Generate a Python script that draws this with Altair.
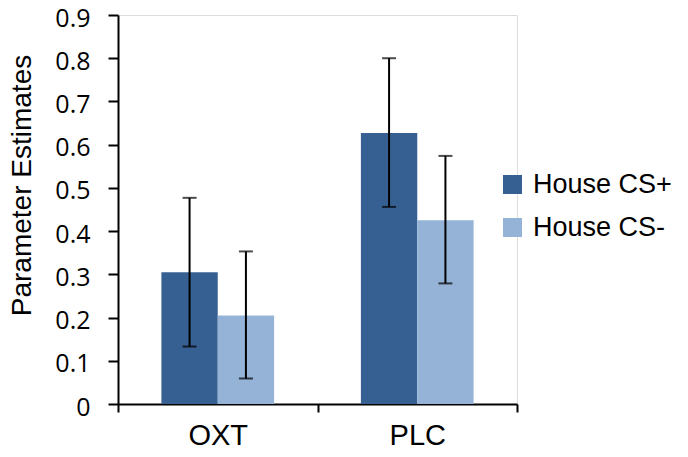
import altair as alt
import pandas as pd

genes = ["OXT", "OXT", "PLC", "PLC"]
conditions = ["House CS+", "House CS-", "House CS+", "House CS-"]
means = [0.305, 0.205, 0.627, 0.425]
lower = [0.133, 0.059, 0.456, 0.279]
upper = [0.477, 0.353, 0.800, 0.574]

cond_order = ["House CS+", "House CS-"]
colors = ["#376092", "#95B3D7"]
y_ticks = [0, 0.1, 0.2, 0.3, 0.4, 0.5, 0.6, 0.7, 0.8, 0.9]

df = pd.DataFrame({"gene": genes, "cond": conditions, "mean": means,
                   "lo": lower, "hi": upper})

x_enc = alt.X("gene:N", title=None,
              scale=alt.Scale(paddingInner=0, paddingOuter=0),
              axis=alt.Axis(tickBand="extent", labelAngle=0, labelFont="Liberation Sans",
                            labelFontSize=29, labelColor="black", labelPadding=9,
                            domainColor="black", domainWidth=2, tickColor="black",
                            tickWidth=2, tickSize=8, grid=False))
xoff = alt.XOffset("cond:N", sort=cond_order,
                   scale=alt.Scale(domain=cond_order, paddingInner=0, paddingOuter=0.77))

y_scale = alt.Scale(domain=[0, 0.9], nice=False)
y_axis = alt.Axis(values=y_ticks, grid=False,
                  labelExpr="datum.value == 0 ? '0' : format(datum.value, '.1f')",
                  labelFont="Open Sans", labelFontSize=25, labelColor="black",
                  labelPadding=18, labelOffset=3, domainColor="black", domainWidth=2,
                  tickColor="black", tickWidth=2, tickSize=10,
                  title="Parameter Estimates", titleFont="Liberation Sans",
                  titleFontSize=28, titleFontWeight="normal", titleColor="black",
                  titleAngle=270, titleAlign="center", titleBaseline="alphabetic",
                  titleX=-88, titleY=170)

base = alt.Chart(df)

bars = base.mark_bar().encode(
    x=x_enc,
    xOffset=xoff,
    y=alt.Y("mean:Q", scale=y_scale, axis=y_axis),
    color=alt.Color("cond:N", sort=cond_order,
                    scale=alt.Scale(domain=cond_order, range=colors),
                    legend=alt.Legend(title=None, orient="none", legendX=381, legendY=156,
                                      symbolType="square", symbolSize=361,
                                      symbolStrokeWidth=0, labelFont="Liberation Sans",
                                      labelFontSize=27, labelColor="black",
                                      labelOffset=7, rowPadding=15, padding=0)),
)

rules = base.mark_rule(color="black", strokeWidth=2).encode(
    x=x_enc, xOffset=xoff,
    y=alt.Y("lo:Q", scale=y_scale), y2="hi:Q")

cap_hi = base.mark_tick(color="black", size=14, thickness=2).encode(
    x=x_enc, xOffset=xoff, y=alt.Y("hi:Q", scale=y_scale))
cap_lo = base.mark_tick(color="black", size=14, thickness=2).encode(
    x=x_enc, xOffset=xoff, y=alt.Y("lo:Q", scale=y_scale))

chart = alt.layer(bars, rules, cap_hi, cap_lo).properties(
    width=399, height=389,
    padding={"left": 110, "top": 7, "right": 163, "bottom": 45},
    autosize=alt.AutoSizeParams(type="none"),
).configure_view(stroke=None).configure(background="white")

chart.save("out.html", embed_options={"renderer": "svg", "actions": False})
